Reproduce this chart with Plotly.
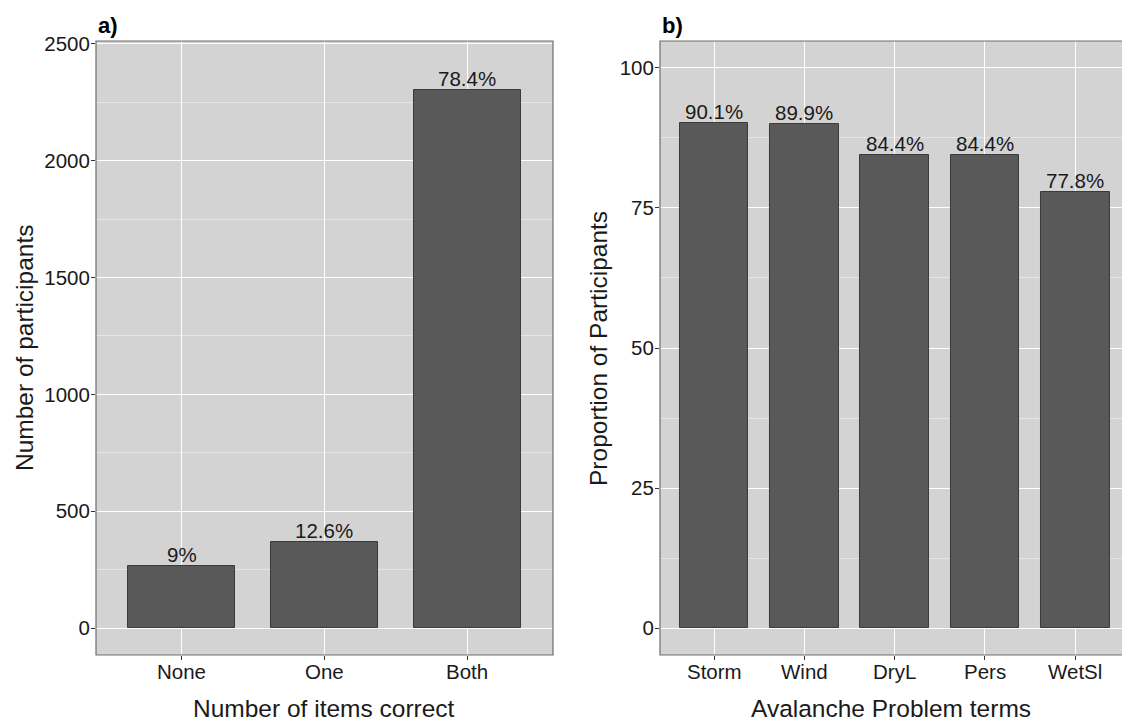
import plotly.graph_objects as go

# Panel a: how many of the two items each participant answered correctly
items = ["None", "One", "Both"]
item_counts = [265, 370, 2305]

# Panel b: share of participants correctly identifying each avalanche problem
terms = ["Storm", "Wind", "DryL", "Pers", "WetSl"]
term_props = [90.1, 89.9, 84.4, 84.4, 77.8]

a_yticks = [0, 500, 1000, 1500, 2000, 2500]
b_yticks = [0, 25, 50, 75, 100]

PANEL_BG = "#d3d3d3"
BAR_FILL = "#595959"
BAR_LINE = "#3a3a3a"
TEXT = "#1a1a1a"
FONT = "Liberation Sans, Arial, sans-serif"

TICK_SIZE = 20.5
LABEL_SIZE = 20.5
TITLE_SIZE = 24.5

total = sum(item_counts)
item_labels = []
for c in item_counts:
    p = round(100 * c / total, 1)
    item_labels.append(f"{p:g}%")
term_labels = [f"{p:g}%" for p in term_props]

fig = go.Figure()
fig.add_trace(go.Bar(x=items, y=item_counts, width=0.75, xaxis="x", yaxis="y",
                     marker=dict(color=BAR_FILL, line=dict(color=BAR_LINE, width=1)),
                     hoverinfo="skip"))
fig.add_trace(go.Bar(x=terms, y=term_props, width=0.76, xaxis="x2", yaxis="y2",
                     marker=dict(color=BAR_FILL, line=dict(color=BAR_LINE, width=1)),
                     hoverinfo="skip"))

annotations = []
for x, y, t in zip(items, item_counts, item_labels):
    annotations.append(dict(x=x, y=y, xref="x", yref="y", text=t, showarrow=False,
                            yanchor="bottom", yshift=-2,
                            font=dict(size=LABEL_SIZE, color=TEXT, family=FONT)))
for x, y, t in zip(terms, term_props, term_labels):
    annotations.append(dict(x=x, y=y, xref="x2", yref="y2", text=t, showarrow=False,
                            yanchor="bottom", yshift=-2,
                            font=dict(size=LABEL_SIZE, color=TEXT, family=FONT)))

# category labels under each panel
for x in items:
    annotations.append(dict(x=x, y=0, xref="x", yref="paper", text=x, showarrow=False,
                            yanchor="top", yshift=-3,
                            font=dict(size=TICK_SIZE, color=TEXT, family=FONT)))
for x in terms:
    annotations.append(dict(x=x, y=0, xref="x2", yref="paper", text=x, showarrow=False,
                            yanchor="top", yshift=-3,
                            font=dict(size=TICK_SIZE, color=TEXT, family=FONT)))

# panel tags and axis titles
annotations += [
    dict(text="<b>a)</b>", x=0.0, y=1.0, xref="paper", yref="paper", xanchor="left",
         yanchor="bottom", yshift=1, showarrow=False, font=dict(size=22, color="black", family=FONT)),
    dict(text="<b>b)</b>", x=0.5497, y=1.0, xref="paper", yref="paper", xanchor="left",
         yanchor="bottom", yshift=1, showarrow=False, font=dict(size=22, color="black", family=FONT)),
    dict(text="Number of items correct", x=0.2227, y=0, xref="paper", yref="paper",
         xanchor="center", yanchor="middle", yshift=-53, showarrow=False,
         font=dict(size=TITLE_SIZE, color=TEXT, family=FONT)),
    dict(text="Avalanche Problem terms", x=0.7748, y=0, xref="paper", yref="paper",
         xanchor="center", yanchor="middle", yshift=-53, showarrow=False,
         font=dict(size=TITLE_SIZE, color=TEXT, family=FONT)),
    dict(text="Number of participants", x=0, y=0.5, xref="paper", yref="paper", textangle=-90,
         xanchor="center", yanchor="middle", xshift=-72, showarrow=False,
         font=dict(size=TITLE_SIZE, color=TEXT, family=FONT)),
    dict(text="Proportion of Participants", x=0.5497, y=0.5, xref="paper", yref="paper", textangle=-90,
         xanchor="center", yanchor="middle", xshift=-62, showarrow=False,
         font=dict(size=TITLE_SIZE, color=TEXT, family=FONT)),
]

common_x = dict(type="category", showgrid=True, gridcolor="white", gridwidth=1.2,
                ticks="outside", ticklen=4, tickcolor="#333333", tickwidth=1,
                showticklabels=False,
                showline=False, zeroline=False, fixedrange=True)
common_y = dict(showgrid=True, gridcolor="white", gridwidth=1.2,
                ticks="outside", ticklen=4, tickcolor="#333333", tickwidth=1,
                tickfont=dict(size=TICK_SIZE, color=TEXT, family=FONT),
                showline=False, zeroline=False, fixedrange=True, ticklabelstandoff=-3)

fig.update_layout(
    width=1122, height=721,
    margin=dict(l=96, r=0, t=41, b=66),
    paper_bgcolor="white", plot_bgcolor=PANEL_BG,
    showlegend=False, bargap=0,
    xaxis=dict(common_x, domain=[0, 0.4454], range=[-0.6, 2.6], anchor="y"),
    yaxis=dict(common_y, domain=[0, 1], range=[-115.6, 2512.8], anchor="x",
               tickvals=a_yticks, ticktext=[str(v) for v in a_yticks],
               minor=dict(showgrid=True, gridcolor="#e6e6e6", gridwidth=0.6, dtick=250, tick0=0)),
    xaxis2=dict(common_x, domain=[0.5497, 1], range=[-0.6, 4.518], anchor="y2"),
    yaxis2=dict(common_y, domain=[0, 1], range=[-4.8, 104.8], anchor="x2",
                tickvals=b_yticks, ticktext=[str(v) for v in b_yticks],
                minor=dict(showgrid=True, gridcolor="#e6e6e6", gridwidth=0.6, dtick=12.5, tick0=0)),
    annotations=annotations,
    shapes=[
        dict(type="rect", xref="x domain", yref="y domain", x0=0, x1=1, y0=0, y1=1,
             line=dict(color="#6e6e6e", width=1.2), layer="above"),
        dict(type="rect", xref="x2 domain", yref="y2 domain", x0=0, x1=1.02, y0=0, y1=1,
             line=dict(color="#6e6e6e", width=1.2), layer="above"),
    ],
)

fig.write_html("out.html")
